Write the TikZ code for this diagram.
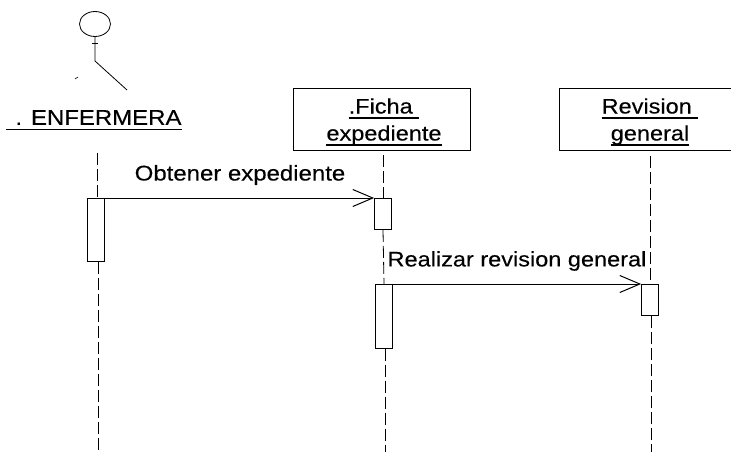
\documentclass[tikz,border=0pt]{standalone}
\usepackage{fontspec}
\usepackage{tikz}
\usetikzlibrary{positioning}
\usetikzlibrary{arrows.meta}
\usetikzlibrary{shapes.geometric}
\setmainfont[FakeStretch=1.12,FakeBold=0.3]{Liberation Sans}
\newcommand{\ulbar}[1]{\leavevmode\setbox0=\hbox{#1}\rlap{\raisebox{-5pt}{\rule{\wd0}{1.2pt}}}\box0}
\newcommand{\objline}[1]{\hspace*{5pt}\ulbar{#1}}
\tikzset{
	objbox/.style={draw, line width=0.9pt, minimum width=177pt, minimum height=62pt, inner sep=0pt, align=center, font=\fontsize{21}{27}\selectfont},
	actbar/.style={draw, line width=0.8pt, minimum width=17pt, inner sep=0pt, anchor=north},
	lifeline/.style={line width=0.8pt, dash pattern=on 12pt off 4pt},
	msgarrow/.style={line width=0.8pt, -{Straight Barb[length=20pt,width=17pt,line width=1pt]}},
	msglabel/.style={inner sep=0pt, font=\fontsize{21.4}{24}\selectfont}
}
\begin{document}
\begin{tikzpicture}[x=1pt,y=-1pt]
	\useasboundingbox (0,0) rectangle (731,452);
	% actor
	\node[draw, ellipse, line width=0.8pt, minimum width=31pt, minimum height=25pt, inner sep=0pt] (head) at (95,24) {};
	\coordinate (hip) at (95,61);
	\coordinate (foot) at (127,90);
	\coordinate (armL) at (92,43);
	\coordinate (armR) at (98,43);
	\coordinate (tickA) at (75,79);
	\coordinate (tickB) at (78,77);
	\draw[line width=0.8pt] (head) -- (hip) -- (foot);
	\draw[line width=0.6pt] (armL) -- (armR);
	\draw[line width=0.6pt] (tickA) -- (tickB);
	\node[msglabel] (enfermera) at (94,120) {\ulbar{\hspace{9pt}. ENFERMERA}};
	% objects
	\node[objbox] (ficha) at (381.5,119) {\rule{0pt}{21pt}\objline{.Ficha\ }\\\objline{expediente}};
	\node[objbox] (revision) at (647.5,119) {\rule{0pt}{21pt}\objline{Revision\ }\\\objline{general}};
	% activations
	\node[actbar, minimum height=63pt] (act1) at (96,198) {};
	\node[actbar, minimum height=31pt] (act2) at (383,198) {};
	\node[actbar, minimum height=64pt] (act3) at (384,284) {};
	\node[actbar, minimum height=31pt] (act4) at (650,284) {};
	% lifeline ends
	\coordinate (top1) at (97,153);
	\coordinate (bot1) at (98,452);
	\coordinate (bot3) at (385,452);
	\coordinate (bot4) at (651,452);
	\draw[lifeline] (top1) -- (top1 |- act1.north);
	\draw[lifeline] (act1.south -| bot1) -- (bot1);
	\draw[lifeline] (ficha.south -| act2.north) ++(0,5) -- (act2.north);
	\draw[lifeline] (act2.south) -- (act3.north);
	\draw[lifeline] (act3.south -| bot3) -- (bot3);
	\draw[lifeline] (revision.south -| act4.north) ++(0,6) -- (act4.north);
	\draw[lifeline] (act4.south -| bot4) -- (bot4);
	% messages
	\draw[msgarrow] (act1.north east) -- (act2.north west);
	\draw[msgarrow] (act3.north east) -- (act4.north west);
	\node[msglabel] (obtener) at (240,175) {Obtener expediente};
	\node[msglabel, font=\fontsize{21}{24}\selectfont] (realizar) at (517,261) {Realizar revision general};
\end{tikzpicture}
\end{document}
